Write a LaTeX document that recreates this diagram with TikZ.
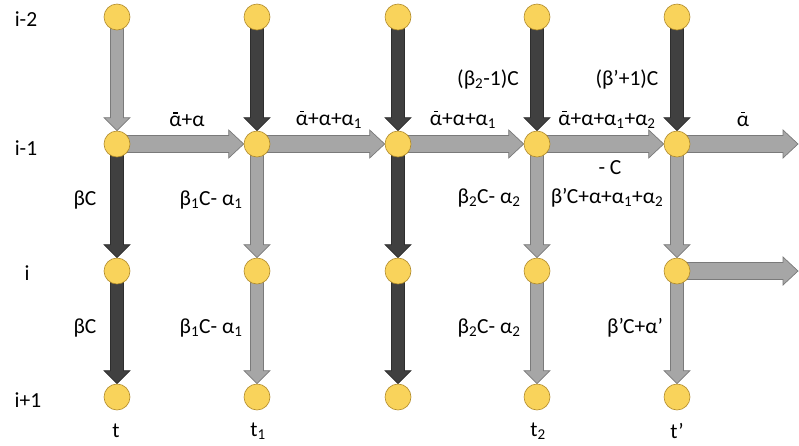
\documentclass[tikz,border=0pt]{standalone}
\usepackage{fontspec}
\setmainfont{Carlito}
\usetikzlibrary{calc,backgrounds}
\definecolor{ynode}{HTML}{F9D35B}
\definecolor{ynodeb}{HTML}{B08A2A}
\definecolor{garrow}{HTML}{A6A6A6}
\definecolor{garrowb}{HTML}{7A7A7A}
\definecolor{darrow}{HTML}{404040}
\definecolor{darrowb}{HTML}{2E2E2E}
\newcommand{\ab}{\ooalign{α\cr\hidewidth\raisebox{0.6em}{\rule{0.2em}{0.07em}}\hidewidth\cr}}
\newcommand{\sub}[1]{\textsubscript{#1}}
% vertical block arrow: style, source node, target point
\newcommand{\varr}[3]{\filldraw[#1] ($(#2.center)+(-6.5,0)$) -- ($(#3)+(-6.5,-13)$) -- ($(#3)+(-13,-13)$) -- (#3) -- ($(#3)+(13,-13)$) -- ($(#3)+(6.5,-13)$) -- ($(#2.center)+(6.5,0)$) -- cycle;}
% horizontal block arrow
\newcommand{\harr}[3]{\filldraw[#1] ($(#2.center)+(0,-8.5)$) -- ($(#3)+(-15,-8.5)$) -- ($(#3)+(-15,-14)$) -- (#3) -- ($(#3)+(-15,14)$) -- ($(#3)+(-15,8.5)$) -- ($(#2.center)+(0,8.5)$) -- cycle;}
\tikzset{
  dot/.style={circle, minimum size=26pt, inner sep=0pt, fill=ynode, draw=ynodeb, line width=0.6pt},
  grey/.style={fill=garrow, draw=garrowb, line width=0.7pt},
  dark/.style={fill=darrow, draw=darrowb, line width=0.7pt},
  lbl/.style={inner sep=0pt},
}
\begin{document}
\begin{tikzpicture}[x=1pt,y=-1pt,font=\fontsize{21.5}{25}\selectfont]
\useasboundingbox (0,0) rectangle (799,445);
\foreach \c/\x in {1/117,2/257,3/398,4/537,5/677}
  \foreach \r/\y in {1/17,2/144,3/271,4/397}
    \node[dot] (n\c\r) at (\x,\y) {};
\coordinate (e1) at (798,144);
\coordinate (e2) at (798,271);
\begin{pgfonlayer}{background}
  % column 1
  \varr{grey}{n11}{n12.north}
  \varr{dark}{n12}{n13.north}
  \varr{dark}{n13}{n14.north}
  % column 2
  \varr{dark}{n21}{n22.north}
  \varr{grey}{n22}{n23.north}
  \varr{grey}{n23}{n24.north}
  % column 3
  \varr{dark}{n31}{n32.north}
  \varr{dark}{n32}{n33.north}
  \varr{dark}{n33}{n34.north}
  % column 4
  \varr{dark}{n41}{n42.north}
  \varr{grey}{n42}{n43.north}
  \varr{grey}{n43}{n44.north}
  % column 5
  \varr{dark}{n51}{n52.north}
  \varr{grey}{n52}{n53.north}
  \varr{grey}{n53}{n54.north}
  % row i-1
  \harr{grey}{n12}{n22.west}
  \harr{grey}{n22}{n32.west}
  \harr{grey}{n32}{n42.west}
  \harr{grey}{n42}{n52.west}
  \harr{grey}{n52}{e1}
  % row i
  \harr{grey}{n53}{e2}
\end{pgfonlayer}
% row labels
\node[lbl] (r1) at (26,19) {i-2};
\node[lbl] (r2) at (26,148) {i-1};
\node[lbl] (r3) at (27,273) {i};
\node[lbl] (r4) at (28,400) {i+1};
% column labels
\node[lbl] (c1) at (116,431) {t};
\node[lbl] (c2) at (258,431) {t\sub{1}};
\node[lbl] (c4) at (538,431) {t\sub{2}};
\node[lbl] (c5) at (677,431) {t’};
% horizontal edge labels
\node[lbl] (h1) at (187,121) {\ab+α};
\node[lbl] (h2) at (329,121) {\ab+α+α\sub{1}};
\node[lbl] (h3) at (463,121) {\ab+α+α\sub{1}};
\node[lbl] (h4) at (607,121) {\ab+α+α\sub{1}+α\sub{2}};
\node[lbl] (h5) at (743,121) {\ab};
% top vertical labels
\node[lbl] (v41) at (488,79) {(β\sub{2}-1)C};
\node[lbl] (v51) at (627,79) {(β’+1)C};
% middle labels
\node[lbl] (m1) at (85,200) {βC};
\node[lbl] (m2) at (211,200) {β\sub{1}C- α\sub{1}};
\node[lbl] (m4) at (489,198) {β\sub{2}C- α\sub{2}};
\node[lbl] (mc) at (610,168) {- C};
\node[lbl] (m5) at (607,198) {β’C+α+α\sub{1}+α\sub{2}};
% lower labels
\node[lbl] (l1) at (85,328) {βC};
\node[lbl] (l2) at (211,328) {β\sub{1}C- α\sub{1}};
\node[lbl] (l4) at (489,328) {β\sub{2}C- α\sub{2}};
\node[lbl] (l5) at (635,328) {β’C+α’};
\end{tikzpicture}
\end{document}
